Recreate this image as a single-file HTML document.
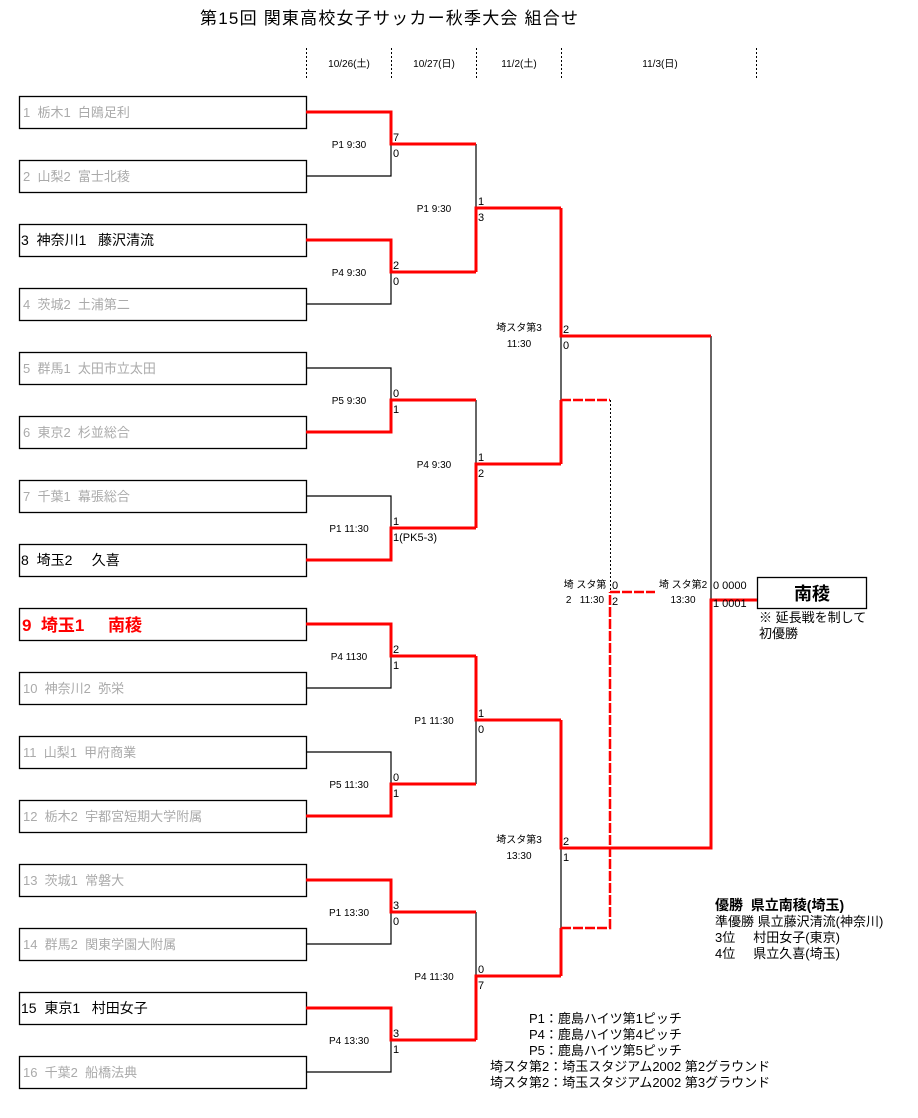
<!DOCTYPE html>
<html><head><meta charset="utf-8"><style>
html,body{margin:0;padding:0;background:#fff;}
svg{display:block;font-family:"Liberation Sans","Noto Sans CJK JP",sans-serif;}
.g{fill:#aaa;font-size:13px}
.b{fill:#000;font-size:14px}
.s{font-size:11px;fill:#000}
.l{font-size:10px;fill:#000}
</style></head><body>
<svg width="918" height="1118" viewBox="0 0 918 1118" xmlns="http://www.w3.org/2000/svg">
<text x="389" y="24" font-size="17" text-anchor="middle" textLength="378">第15回 関東高校女子サッカー秋季大会 組合せ</text>
<g stroke="#000" stroke-dasharray="2,2" stroke-width="1">
<line x1="306.5" y1="48" x2="306.5" y2="80"/><line x1="391.5" y1="48" x2="391.5" y2="80"/>
<line x1="476.5" y1="48" x2="476.5" y2="80"/><line x1="561.5" y1="48" x2="561.5" y2="80"/>
<line x1="756.5" y1="48" x2="756.5" y2="80"/></g>
<g class="l" text-anchor="middle"><text x="349" y="67">10/26(土)</text><text x="434" y="67">10/27(日)</text><text x="519" y="67">11/2(土)</text><text x="660" y="67">11/3(日)</text></g>

<g fill="none" stroke="#000" stroke-width="1.3">
<rect x="19.5" y="96.5" width="287" height="32"/><rect x="19.5" y="160.5" width="287" height="32"/>
<rect x="19.5" y="224.5" width="287" height="32"/><rect x="19.5" y="288.5" width="287" height="32"/>
<rect x="19.5" y="352.5" width="287" height="32"/><rect x="19.5" y="416.5" width="287" height="32"/>
<rect x="19.5" y="480.5" width="287" height="32"/><rect x="19.5" y="544.5" width="287" height="32"/>
<rect x="19.5" y="608.5" width="287" height="32"/><rect x="19.5" y="672.5" width="287" height="32"/>
<rect x="19.5" y="736.5" width="287" height="32"/><rect x="19.5" y="800.5" width="287" height="32"/>
<rect x="19.5" y="864.5" width="287" height="32"/><rect x="19.5" y="928.5" width="287" height="32"/>
<rect x="19.5" y="992.5" width="287" height="32"/><rect x="19.5" y="1056.5" width="287" height="32"/>
<rect x="757.5" y="577.5" width="109" height="31"/>
</g>
<g>
<text class="g" x="23" y="117">1&#160; 栃木1&#160; 白鴎足利</text>
<text class="g" x="23" y="181">2&#160; 山梨2&#160; 富士北稜</text>
<text class="b" x="21" y="245">3&#160; 神奈川1&#160;&#160; 藤沢清流</text>
<text class="g" x="23" y="309">4&#160; 茨城2&#160; 土浦第二</text>
<text class="g" x="23" y="373">5&#160; 群馬1&#160; 太田市立太田</text>
<text class="g" x="23" y="437">6&#160; 東京2&#160; 杉並総合</text>
<text class="g" x="23" y="501">7&#160; 千葉1&#160; 幕張総合</text>
<text class="b" x="21" y="565">8&#160; 埼玉2&#160;&#160;&#160;&#160; 久喜</text>
<text x="22" y="631" font-size="17" font-weight="bold" fill="#f00">9&#160; 埼玉1&#160;&#160;&#160;&#160; 南稜</text>
<text class="g" x="23" y="693">10&#160; 神奈川2&#160; 弥栄</text>
<text class="g" x="23" y="757">11&#160; 山梨1&#160; 甲府商業</text>
<text class="g" x="23" y="821">12&#160; 栃木2&#160; 宇都宮短期大学附属</text>
<text class="g" x="23" y="885">13&#160; 茨城1&#160; 常磐大</text>
<text class="g" x="23" y="949">14&#160; 群馬2&#160; 関東学園大附属</text>
<text class="b" x="21" y="1013">15&#160; 東京1&#160;&#160; 村田女子</text>
<text class="g" x="23" y="1077">16&#160; 千葉2&#160; 船橋法典</text>
</g>

<g fill="none" stroke="#000" stroke-width="1.2">
<path d="M306 112H391V176H306M306 240H391V304H306M306 368H391V432H306M306 496H391V560H306M306 624H391V688H306M306 752H391V816H306M306 880H391V944H306M306 1008H391V1072H306"/>
<path d="M476 144V272M476 400V528M476 656V784M476 912V1040M561 208V464M561 720V976M711 336V600"/>
</g>
<g fill="none" stroke="#000" stroke-width="1" stroke-dasharray="2,2"><path d="M610.5 400V592"/></g>
<g fill="none" stroke="#f00" stroke-width="2.5" stroke-dasharray="10,2"><path d="M561 400H610M610 592H655M561 928H610V592"/></g>
<g fill="none" stroke="#f00" stroke-width="3">
<path d="M306 112H391V144H476M306 240H391V272H476M306 432H391V400H476M306 560H391V528H476"/>
<path d="M306 624H391V656H476M306 816H391V784H476M306 880H391V912H476M306 1008H391V1040H476"/>
<path d="M476 272V208H561M476 528V464H561M476 656V720H561M476 1040V976H561"/>
<path d="M561 208V336H711M561 464V400M561 720V848H711V600H757M561 976V928"/>
</g>

<g class="s">
<text x="393" y="141">7</text><text x="393" y="157">0</text>
<text x="393" y="269">2</text><text x="393" y="285">0</text>
<text x="393" y="397">0</text><text x="393" y="413">1</text>
<text x="393" y="525">1</text><text x="393" y="541">1(PK5-3)</text>
<text x="393" y="653">2</text><text x="393" y="669">1</text>
<text x="393" y="781">0</text><text x="393" y="797">1</text>
<text x="393" y="909">3</text><text x="393" y="925">0</text>
<text x="393" y="1037">3</text><text x="393" y="1053">1</text>
<text x="478" y="205">1</text><text x="478" y="221">3</text>
<text x="478" y="461">1</text><text x="478" y="477">2</text>
<text x="478" y="717">1</text><text x="478" y="733">0</text>
<text x="478" y="973">0</text><text x="478" y="989">7</text>
<text x="563" y="333">2</text><text x="563" y="349">0</text>
<text x="563" y="845">2</text><text x="563" y="861">1</text>
<text x="612" y="589">0</text><text x="612" y="605">2</text>
<text x="713" y="589">0 0000</text><text x="713" y="607">1 0001</text>
</g>
<g class="l" text-anchor="middle">
<text x="349" y="148">P1 9:30</text><text x="349" y="276">P4 9:30</text>
<text x="349" y="404">P5 9:30</text><text x="349" y="532">P1 11:30</text>
<text x="349" y="660">P4 1130</text><text x="349" y="788">P5 11:30</text>
<text x="349" y="916">P1 13:30</text><text x="349" y="1044">P4 13:30</text>
<text x="434" y="212">P1 9:30</text><text x="434" y="468">P4 9:30</text>
<text x="434" y="724">P1 11:30</text><text x="434" y="980">P4 11:30</text>
<text x="519" y="331">埼スタ第3</text><text x="519" y="347">11:30</text>
<text x="519" y="843">埼スタ第3</text><text x="519" y="859">13:30</text>
<text x="585" y="588">埼 スタ第</text><text x="585" y="603">2&#160;&#160; 11:30</text>
<text x="683" y="588">埼 スタ第2</text><text x="683" y="603">13:30</text>
</g>
<text x="812" y="600" font-size="18" font-weight="bold" text-anchor="middle">南稜</text>
<text x="759" y="622" font-size="13">※ 延長戦を制して</text>
<text x="759" y="638" font-size="13">初優勝</text>
<text x="715" y="910" font-size="14" font-weight="bold">優勝&#160; 県立南稜(埼玉)</text>
<g font-size="13"><text x="715" y="926">準優勝 県立藤沢清流(神奈川)</text>
<text x="715" y="942">3位&#160;&#160;&#160;&#160; 村田女子(東京)</text>
<text x="715" y="958">4位&#160;&#160;&#160;&#160; 県立久喜(埼玉)</text></g>
<g font-size="13"><text x="529" y="1023">P1：鹿島ハイツ第1ピッチ</text>
<text x="529" y="1039">P4：鹿島ハイツ第4ピッチ</text>
<text x="529" y="1055">P5：鹿島ハイツ第5ピッチ</text>
<text x="490" y="1071">埼スタ第2：埼玉スタジアム2002 第2グラウンド</text>
<text x="490" y="1087">埼スタ第2：埼玉スタジアム2002 第3グラウンド</text></g>
</svg>
</body></html>
